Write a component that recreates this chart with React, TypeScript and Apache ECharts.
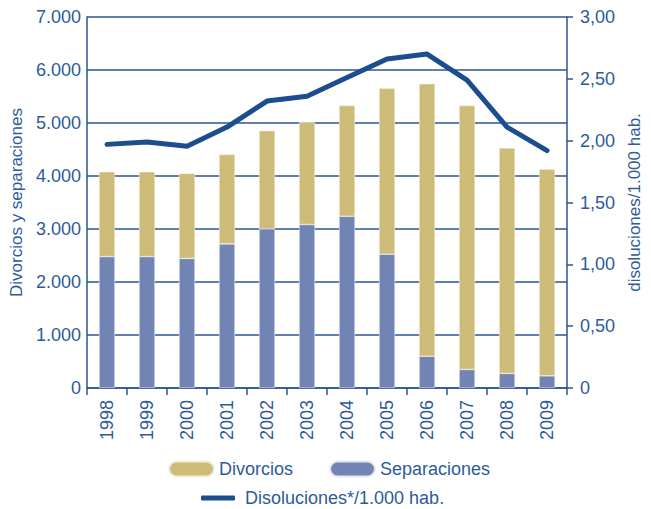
import React, { useEffect, useRef } from "react";
import * as echarts from "echarts";

const years = ["1998", "1999", "2000", "2001", "2002", "2003", "2004", "2005", "2006", "2007", "2008", "2009"];
const separaciones = [2480, 2480, 2445, 2720, 3005, 3085, 3240, 2525, 600, 350, 275, 230];
const divorcios = [1600, 1600, 1605, 1685, 1850, 1930, 2090, 3130, 5140, 4980, 4255, 3900];
const disoluciones = [1.97, 1.99, 1.955, 2.11, 2.32, 2.36, 2.51, 2.66, 2.7, 2.49, 2.11, 1.92];

const TEXT = "#2d5b9a";
const AXIS = "#2a5596";
const FONT = "Liberation Sans";
const pill = "path://M7.5,0 H37.5 A7.5,7.5 0 0 1 37.5,15 H7.5 A7.5,7.5 0 0 1 7.5,0 Z";

export default function App() {
  const ref = useRef<HTMLDivElement>(null);
  useEffect(() => {
    const chart = echarts.init(ref.current!, undefined, { renderer: "svg" });
    chart.setOption({
      animation: false,
      textStyle: { fontFamily: FONT, color: TEXT },
      grid: { left: 87, right: 77, top: 17, bottom: 121, containLabel: false },
      legend: [
        {
          data: ["Divorcios", "Separaciones"],
          left: 163,
          top: 455,
          itemWidth: 45,
          itemHeight: 15,
          itemGap: 36,
          icon: pill,
          textStyle: { fontFamily: FONT, fontSize: 18, color: TEXT },
        },
        {
          data: ["Disoluciones*/1.000 hab."],
          left: 196,
          top: 484,
          itemWidth: 34,
          itemHeight: 5,
          icon: "roundRect",
          textStyle: { fontFamily: FONT, fontSize: 18, color: TEXT, padding: [0, 0, 0, 5] },
        },
      ],
      xAxis: {
        type: "category",
        data: years,
        boundaryGap: true,
        axisLine: { lineStyle: { color: AXIS, width: 1.5 } },
        axisTick: { show: true, length: 7, lineStyle: { color: AXIS, width: 1.5 } },
        axisLabel: { rotate: 90, margin: 12, fontSize: 18, color: TEXT, fontFamily: FONT },
      },
      yAxis: [
        {
          type: "value",
          min: 0,
          max: 7000,
          interval: 1000,
          name: "Divorcios y separaciones",
          nameLocation: "middle",
          nameRotate: 90,
          nameGap: 61,
          nameTextStyle: { fontSize: 17, color: TEXT, fontFamily: FONT },
          axisLine: { show: true, lineStyle: { color: AXIS, width: 1.5 } },
          axisTick: { show: false },
          splitLine: { show: true, lineStyle: { color: AXIS, width: 1.5 } },
          axisLabel: {
            margin: 6,
            fontSize: 18,
            color: TEXT,
            fontFamily: FONT,
            formatter: (v: number) => (v >= 1000 ? String(v).replace(/(\d)(\d{3})$/, "$1.$2") : String(v)),
          },
        },
        {
          type: "value",
          min: 0,
          max: 3,
          interval: 0.5,
          position: "right",
          name: "disoluciones/1.000 hab.",
          nameLocation: "middle",
          nameRotate: 90,
          nameGap: 55,
          nameTextStyle: { fontSize: 17, color: TEXT, fontFamily: FONT },
          axisLine: { show: true, lineStyle: { color: AXIS, width: 1.5 } },
          axisTick: { show: true, length: 6, lineStyle: { color: AXIS, width: 1.5 } },
          splitLine: { show: false },
          axisLabel: {
            margin: 13,
            fontSize: 18,
            color: TEXT,
            fontFamily: FONT,
            formatter: (v: number) => (v === 0 ? "0" : v.toFixed(2).replace(".", ",")),
          },
        },
      ],
      series: [
        {
          name: "Separaciones",
          type: "bar",
          stack: "total",
          barWidth: 16,
          data: separaciones,
          itemStyle: { color: "#7284b3", borderColor: "#e8e6f0", borderWidth: 0.6 },
        },
        {
          name: "Divorcios",
          type: "bar",
          stack: "total",
          barWidth: 16,
          data: divorcios,
          itemStyle: { color: "#cdbb78", borderColor: "#f3eedc", borderWidth: 0.6 },
        },
        {
          name: "Disoluciones*/1.000 hab.",
          type: "line",
          yAxisIndex: 1,
          data: disoluciones,
          showSymbol: false,
          symbol: "none",
          z: 5,
          lineStyle: { color: "#1c4d8e", width: 5, cap: "round", join: "round" },
          itemStyle: { color: "#1c4d8e" },
        },
      ],
    });
    return () => chart.dispose();
  }, []);
  return <div ref={ref} style={{ width: 651, height: 509, position: "absolute", left: 0, top: 0 }} />;
}
